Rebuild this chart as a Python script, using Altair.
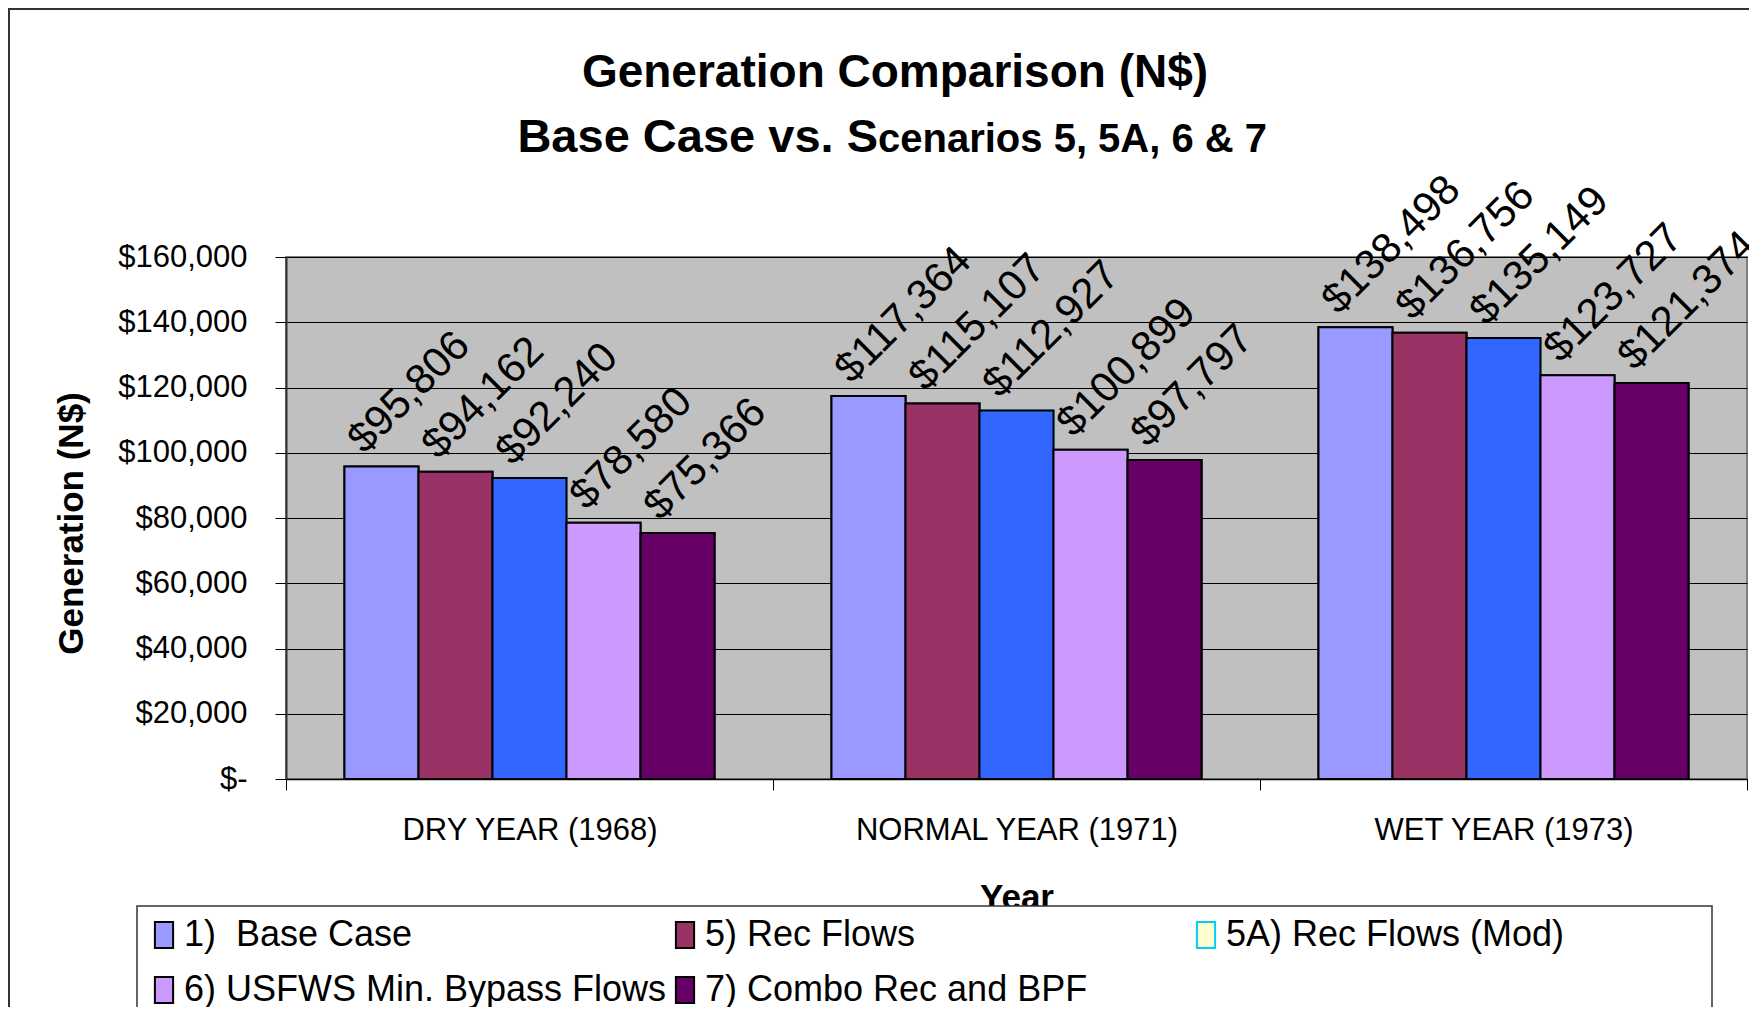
import altair as alt
import pandas as pd

FONT = "Liberation Sans"

categories = ["DRY YEAR (1968)", "NORMAL YEAR (1971)", "WET YEAR (1973)"]
series = [
    "1)\u00a0 Base Case",
    "5) Rec Flows",
    "5A) Rec Flows (Mod)",
    "6) USFWS Min. Bypass Flows",
    "7) Combo Rec and BPF",
]
base_case = [95806, 117364, 138498]
rec_flows = [94162, 115107, 136756]
rec_flows_mod = [92240, 112927, 135149]
usfws_bypass = [78580, 100899, 123727]
combo_rec_bpf = [75366, 97797, 121374]
bar_colors = ["#9999FF", "#993366", "#3366FF", "#CC99FF", "#660066"]
legend_fills = ["#9999FF", "#993366", "#FFFFCC", "#CC99FF", "#660066"]
legend_strokes = ["#000000", "#000000", "#00CCFF", "#000000", "#000000"]
y_ticks = [0, 20000, 40000, 60000, 80000, 100000, 120000, 140000, 160000]

title_line1 = "Generation Comparison (N$)"
title_line2a = "Base Case vs. S"
title_line2b = "cenarios 5, 5A, 6 & 7"

rows = []
for s, vals, c in zip(series, [base_case, rec_flows, rec_flows_mod, usfws_bypass, combo_rec_bpf], bar_colors):
    for cat, v in zip(categories, vals):
        rows.append({"year": cat, "series": s, "value": v, "bar_color": c})
df = pd.DataFrame(rows)

x_enc = alt.X(
    "year:N",
    sort=categories,
    scale=alt.Scale(paddingInner=0, paddingOuter=0),
    axis=alt.Axis(
        title="Year",
        labelAngle=0,
        labelFont=FONT,
        labelFontSize=31,
        labelColor="black",
        labelPadding=25,
        labelLimit=600,
        tickSize=11,
        tickBand="extent",
        tickColor="black",
        tickWidth=1,
        domainColor="black",
        domainWidth=1.5,
        titleFont=FONT,
        titleFontSize=35,
        titleFontWeight="bold",
        titleColor="black",
        titleY=129,
        titleBaseline="alphabetic",
    ),
)
xoff_enc = alt.XOffset("series:N", sort=series, scale=alt.Scale(paddingInner=0, paddingOuter=0.79))
y_enc = alt.Y(
    "value:Q",
    scale=alt.Scale(domain=[0, 160000], nice=False),
    axis=alt.Axis(
        title="Generation (N$)",
        values=y_ticks,
        labelExpr="datum.value === 0 ? '$-' : '$' + format(datum.value, ',')",
        labelFont=FONT,
        labelFontSize=31,
        labelColor="black",
        labelPadding=28,
        labelLimit=600,
        tickSize=11,
        tickColor="black",
        domainColor="#333333",
        domainWidth=2,
        grid=True,
        gridColor="black",
        gridWidth=1,
        titleFont=FONT,
        titleFontSize=35,
        titleFontWeight="bold",
        titleColor="black",
        titleAngle=270,
        titleX=-215,
        titleY=266,
        titleAlign="center",
        titleBaseline="middle",
    ),
)

legend = alt.Legend(
    title=None,
    orient="none",
    legendX=-149,
    legendY=651,
    direction="horizontal",
    columns=3,
    gridAlign="all",
    symbolType="M-0.7,-1H0.7V1H-0.7Z",
    symbolSize=676,
    symbolStrokeWidth=2,
    symbolOffset=0,
    labelOffset=2,
    labelFont=FONT,
    labelFontSize=36,
    labelColor="black",
    labelLimit=700,
    rowPadding=19,
    columnPadding=0,
    padding=9,
)

legend_box = alt.Chart(pd.DataFrame({"b": [1]})).mark_rect(
    fill="white", stroke="#333333", strokeWidth=1.5
).encode(x=alt.value(-149), x2=alt.value(1426), y=alt.value(649), y2=alt.value(800))

legend_layer = alt.Chart(df).mark_bar(strokeWidth=2).encode(
    x=x_enc,
    xOffset=xoff_enc,
    y=y_enc,
    fill=alt.Fill("series:N", sort=series, scale=alt.Scale(domain=series, range=legend_fills), legend=legend),
    stroke=alt.Stroke("series:N", sort=series, scale=alt.Scale(domain=series, range=legend_strokes), legend=legend),
)

bars = alt.Chart(df).mark_bar(stroke="black", strokeWidth=2).encode(
    x=x_enc,
    xOffset=xoff_enc,
    y=y_enc,
    color=alt.Color("bar_color:N", scale=None),
)

labels = alt.Chart(df).transform_calculate(
    label="'$' + format(datum.value, ',')"
).mark_text(
    angle=315, align="left", baseline="alphabetic", dx=-4, dy=-20,
    font=FONT, fontSize=42, color="black",
).encode(
    x=x_enc,
    xOffset=xoff_enc,
    y=y_enc,
    text="label:N",
)

t1 = alt.Chart(pd.DataFrame({"t": [title_line1]})).mark_text(
    align="center", baseline="alphabetic", font=FONT, fontSize=46, fontWeight="bold", color="black"
).encode(text="t:N", x=alt.value(609), y=alt.value(-170))

t2a = alt.Chart(pd.DataFrame({"t": [title_line2a]})).mark_text(
    align="right", baseline="alphabetic", font=FONT, fontSize=47, fontWeight="bold", color="black"
).encode(text="t:N", x=alt.value(592), y=alt.value(-105))

t2b = alt.Chart(pd.DataFrame({"t": [title_line2b]})).mark_text(
    align="left", baseline="alphabetic", font=FONT, fontSize=40, fontWeight="bold", color="black"
).encode(text="t:N", x=alt.value(592), y=alt.value(-105))

frame = alt.Chart(pd.DataFrame({"f": [1]})).mark_rect(
    fillOpacity=0, stroke="#333333", strokeWidth=2
).encode(x=alt.value(-277), x2=alt.value(1500), y=alt.value(-248), y2=alt.value(800))

chart = alt.layer(legend_layer, bars, labels, t1, t2a, t2b, legend_box, frame).properties(
    width=1461,
    height=522,
    autosize=alt.AutoSizeParams(type="none"),
    padding={"left": 278, "top": 249, "right": 2, "bottom": 228},
    background="white",
).configure_view(
    fill="#C0C0C0", stroke="#808080", strokeWidth=2
)

chart.save("out.html", embed_options={"renderer": "svg", "actions": False})
